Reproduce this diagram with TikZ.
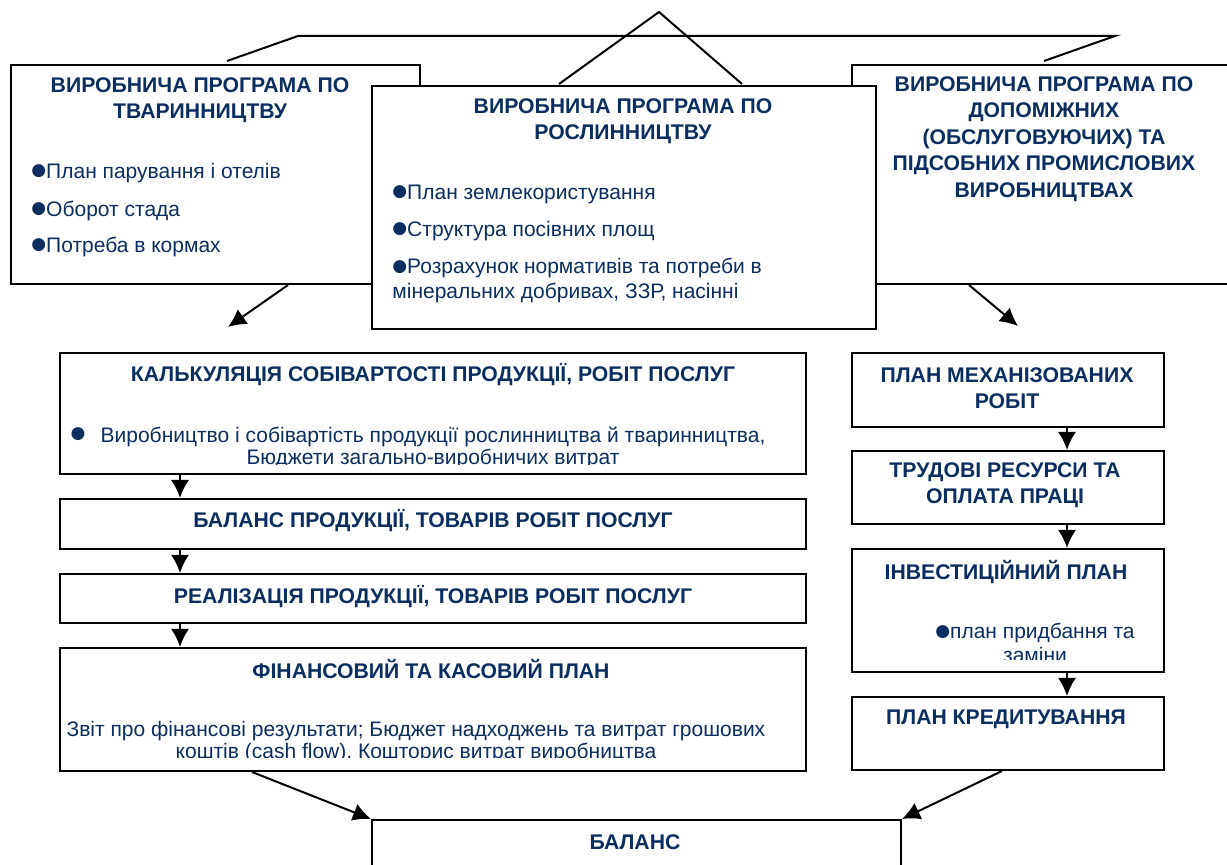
\documentclass[tikz,border=0pt]{standalone}
\usepackage{fontspec}
\setmainfont{Liberation Sans}
\newfontfamily\bulfont{DejaVu Sans}
\usetikzlibrary{arrows.meta}
\definecolor{navy}{RGB}{12,45,95}
\newcommand\bul{\raisebox{0.25ex}{\bulfont\fontsize{8.5}{8.5}\selectfont●}}
\tikzset{
  box/.style={draw, line width=1pt, fill=white, inner sep=0pt, anchor=north west},
  head/.style={text=navy, font=\fontsize{10.6}{13.2}\selectfont\bfseries, align=center, inner sep=0pt},
  txt/.style={text=navy, font=\fontsize{10.5}{11.2}\selectfont, inner sep=0pt},
  arr/.style={line width=1pt, -{Latex[length=9pt,width=9pt]}}
}
\begin{document}
\begin{tikzpicture}[x=0.5pt,y=-0.5pt]
\useasboundingbox (0,0) rectangle (1227,865);
\coordinate (l1) at (227,61);
\coordinate (l2) at (298,36);
\coordinate (l3) at (1115,36);
\coordinate (l4) at (1044,61);
\coordinate (t1) at (559,84);
\coordinate (t2) at (659,12);
\coordinate (t3) at (742,84);
\draw[line width=1pt] (l1) -- (l2) -- (l3) -- (l4);
\draw[line width=1pt] (t1) -- (t2) -- (t3);
% verkhni programy
\node[box, minimum width=204.5pt, minimum height=109.5pt] (tvar) at (10,64) {};
\node[head] (tvarh) at (200,100) {ВИРОБНИЧА ПРОГРАМА ПО\\ТВАРИННИЦТВУ};
\node[txt, anchor=west] (tvar1) at (31,173) {\bul План парування і отелів};
\node[txt, anchor=west] (tvar2) at (31,211) {\bul Оборот стада};
\node[txt, anchor=west] (tvar3) at (31,247) {\bul Потреба в кормах};
\node[box, minimum width=192pt, minimum height=109.5pt] (dop) at (851,64) {};
\node[head] (doph) at (1044,139) {ВИРОБНИЧА ПРОГРАМА ПО\\ДОПОМІЖНИХ\\(ОБСЛУГОВУЮЧИХ) ТА\\ПІДСОБНИХ ПРОМИСЛОВИХ\\ВИРОБНИЦТВАХ};
\node[box, minimum width=252pt, minimum height=121.5pt] (rosl) at (371,85) {};
\node[head] (roslh) at (623,121) {ВИРОБНИЧА ПРОГРАМА ПО\\РОСЛИННИЦТВУ};
\node[txt, anchor=west] (rosl1) at (392,194) {\bul План землекористування};
\node[txt, anchor=west] (rosl2) at (392,231) {\bul Структура посівних площ};
\node[txt, anchor=north west, align=left, font=\fontsize{10.5}{12.5}\selectfont] (rosl3) at (392,258) {\bul Розрахунок нормативів та потреби в\\мінеральних добривах, ЗЗР, насінні};
% liva kolonka
\node[box, minimum width=373pt, minimum height=60.5pt] (kalk) at (59,352) {};
\node[head] (kalkh) at (433,375) {КАЛЬКУЛЯЦІЯ СОБІВАРТОСТІ ПРОДУКЦІЇ, РОБІТ ПОСЛУГ};
\node[txt] (kalkb) at (78,434) {\bul};
\begin{scope}
\clip (59,352) rectangle (805,465);
\node[txt, align=center] (kalkt) at (433,448) {Виробництво і собівартість продукції рослинництва й тваринництва,\\Бюджети загально-виробничих витрат};
\end{scope}
\node[box, minimum width=373pt, minimum height=25pt] (balprod) at (59,498) {};
\node[head] (balprodh) at (433,521) {БАЛАНС ПРОДУКЦІЇ, ТОВАРІВ РОБІТ ПОСЛУГ};
\node[box, minimum width=373pt, minimum height=24.5pt] (real) at (59,573) {};
\node[head] (realh) at (433,597) {РЕАЛІЗАЦІЯ ПРОДУКЦІЇ, ТОВАРІВ РОБІТ ПОСЛУГ};
\node[box, minimum width=373pt, minimum height=61.5pt] (fin) at (59,647) {};
\node[head] (finh) at (431,669) {ФІНАНСОВИЙ ТА КАСОВИЙ ПЛАН};
\begin{scope}
\clip (50,647) rectangle (805,758);
\node[txt, align=center] (fint) at (416,742) {Звіт про фінансові результати; Бюджет надходжень та витрат грошових\\коштів (cash flow), Кошторис витрат виробництва};
\end{scope}
% prava kolonka
\node[box, minimum width=156pt, minimum height=37pt] (mech) at (851,352) {};
\node[head] (mechh) at (1007,388) {ПЛАН МЕХАНІЗОВАНИХ\\РОБІТ};
\node[box, minimum width=156pt, minimum height=36.5pt] (trud) at (851,450) {};
\node[head] (trudh) at (1005,485) {ТРУДОВІ РЕСУРСИ ТА\\ОПЛАТА ПРАЦІ};
\node[box, minimum width=156pt, minimum height=61.5pt] (invest) at (851,548) {};
\node[head] (investh) at (1006,572) {ІНВЕСТИЦІЙНИЙ ПЛАН};
\begin{scope}
\clip (851,548) rectangle (1163,660);
\node[txt, align=center, font=\fontsize{10.5}{11.6}\selectfont] (investt) at (1035,643) {\bul план придбання та\\заміни};
\end{scope}
\node[box, minimum width=156pt, minimum height=36.5pt] (kred) at (851,696) {};
\node[head] (kredh) at (1006,719) {ПЛАН КРЕДИТУВАННЯ};
\node[box, minimum width=264.5pt, minimum height=30pt] (balans) at (371,819) {};
\node[head] (balansh) at (635,842) {БАЛАНС};
% strilky
\coordinate (a1) at (228,327);
\coordinate (a2) at (1018,326);
\draw[arr] (288,0 |- tvar.south) -- (a1);
\draw[arr] (969,0 |- dop.south) -- (a2);
\draw[arr] (180,0 |- kalk.south) -- (180,0 |- balprod.north);
\draw[arr] (180,0 |- balprod.south) -- (180,0 |- real.north);
\draw[arr] (180,0 |- real.south) -- (180,0 |- fin.north);
\draw[arr] (1067,0 |- mech.south) -- (1067,0 |- trud.north);
\draw[arr] (1067,0 |- trud.south) -- (1067,0 |- invest.north);
\draw[arr] (1067,0 |- invest.south) -- (1067,0 |- kred.north);
\draw[arr] (252,0 |- fin.south) -- (balans.north west);
\draw[arr] (1002,0 |- kred.south) -- (balans.north east);
\end{tikzpicture}
\end{document}
